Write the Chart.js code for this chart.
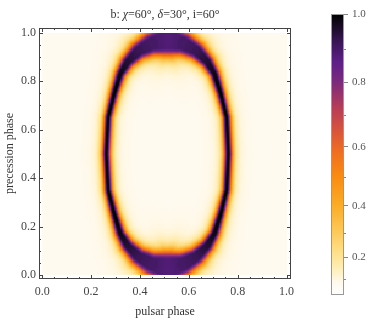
<!DOCTYPE html>
<html>
<head>
<meta charset="utf-8">
<script src="https://cdn.jsdelivr.net/npm/chart.js@4.4.1/dist/chart.umd.min.js"></script>
<style>
  html, body { margin: 0; padding: 0; background: #fff; }
  #wrap { position: relative; width: 374px; height: 326px; }
  #main { position: absolute; left: 0; top: 0; }
  #bar  { position: absolute; left: 305px; top: 0; }
</style>
</head>
<body>
<div id="wrap">
  <canvas id="main" width="305" height="326"></canvas>
  <canvas id="bar" width="69" height="326"></canvas>
</div>
<script>
/* ── fonts / ink ── */
const SERIF = "'Liberation Serif', 'DejaVu Serif', serif";
const INK = '#333';

/* ── ring (one entry per precession phase) ── */
const ringY      = [0.03, 0.045, 0.075, 0.12, 0.17, 0.25, 0.35, 0.50, 0.65, 0.75, 0.83, 0.88, 0.925, 0.955, 0.97];
const ringLeftX  = [0.515, 0.45, 0.395, 0.35, 0.32, 0.295, 0.27, 0.262, 0.27, 0.295, 0.32, 0.35, 0.395, 0.45, 0.515];
const ringRightX = [0.515, 0.575, 0.63, 0.675, 0.705, 0.73, 0.755, 0.762, 0.755, 0.73, 0.705, 0.675, 0.63, 0.575, 0.515];
const ringPeak   = [0.88, 0.90, 0.92, 0.95, 0.98, 1.00, 1.00, 1.00, 1.00, 1.00, 0.98, 0.95, 0.92, 0.90, 0.88];
const ringCore   = [0.035, 0.022, 0.014, 0.008, 0.004, 0.002, 0.001, 0.001, 0.001, 0.002, 0.004, 0.008, 0.014, 0.022, 0.035];
const ringSpread = [0.060, 0.050, 0.042, 0.035, 0.030, 0.027, 0.025, 0.025, 0.025, 0.027, 0.030, 0.035, 0.042, 0.050, 0.060];
const bgLevel = 0.08;

/* ── ticks ── */
const axisTicks  = [0, 0.2, 0.4, 0.6, 0.8, 1.0];
const frameTicks = [];                     // every 0.05, major on 0.2
for (let k = 0; k <= 20; k++) frameTicks.push(k / 20);
const cbTicks      = [0.2, 0.4, 0.6, 0.8, 1.0];
const cbMinorTicks = [0.1, 0.3, 0.5, 0.7, 0.9];
const cbPower = 1.25;                      // legend is stretched, not linear

/* ── colour scale (reversed "sunset") ── */
const sunset = [
  [0.00, '#ffffff'], [0.08, '#fffaf0'], [0.15, '#ffeeb8'], [0.22, '#fee08a'],
  [0.30, '#fdca5a'], [0.40, '#fcac28'], [0.50, '#f98c10'], [0.58, '#f07020'],
  [0.65, '#d9543a'], [0.72, '#b83e55'], [0.80, '#7c2a7c'], [0.86, '#5e2088'],
  [0.92, '#3a1656'], [0.97, '#150a1e'], [1.00, '#000000']
];
function rgb(h) { return [1, 3, 5].map(i => parseInt(h.slice(i, i + 2), 16)); }
function colorAt(v) {
  v = Math.max(0, Math.min(1, v));
  for (let i = 1; i < sunset.length; i++) {
    if (v <= sunset[i][0]) {
      const [v0, c0] = sunset[i - 1], [v1, c1] = sunset[i];
      const f = (v - v0) / (v1 - v0), a = rgb(c0), b = rgb(c1);
      return 'rgb(' + a.map((x, k) => Math.round(x + (b[k] - x) * f)).join(',') + ')';
    }
  }
  return sunset[sunset.length - 1][1];
}

/* ── build the cells from the ring ── */
const segs = [];
[ringLeftX, ringRightX].forEach(xs => {
  for (let i = 0; i < ringY.length - 1; i++) {
    segs.push({ x0: xs[i], y0: ringY[i], x1: xs[i + 1], y1: ringY[i + 1], i });
  }
});
const lerp = (arr, i, t) => arr[i] + (arr[i + 1] - arr[i]) * t;

const N = 200;
const cells = [];
for (let j = 0; j < N; j++) {
  for (let i = 0; i < N; i++) {
    const x = (i + 0.5) / N, y = (j + 0.5) / N;
    let v = bgLevel;
    for (const s of segs) {
      const dx = s.x1 - s.x0, dy = s.y1 - s.y0;
      let t = ((x - s.x0) * dx + (y - s.y0) * dy) / (dx * dx + dy * dy);
      t = Math.max(0, Math.min(1, t));
      const d = Math.hypot(x - (s.x0 + t * dx), y - (s.y0 + t * dy));
      const e = Math.max(0, d - lerp(ringCore, s.i, t)) / lerp(ringSpread, s.i, t);
      const f = 1 / ((1 + e * e) * (1 + e * e));
      const val = bgLevel + (lerp(ringPeak, s.i, t) - bgLevel) * f;
      if (val > v) v = val;
    }
    cells.push({ x: i / N, y: j / N, w: 1 / N, h: 1 / N, c: colorAt(v) });
  }
}

/* ── plugins ── */
const heatmap = {
  id: 'heatmap',
  beforeDatasetsDraw(chart) {
    const { ctx, scales: { x, y } } = chart;
    ctx.save();
    for (const c of cells) {
      const l = Math.round(x.getPixelForValue(c.x)), r = Math.round(x.getPixelForValue(c.x + c.w));
      const t = Math.round(y.getPixelForValue(c.y + c.h)), b = Math.round(y.getPixelForValue(c.y));
      ctx.fillStyle = c.c;
      ctx.fillRect(l, t, r - l, b - t);
    }
    ctx.restore();
  }
};

const frame = {
  id: 'frame',
  afterDraw(chart) {
    const { ctx, chartArea: a, scales: { x, y } } = chart;
    ctx.save();
    ctx.strokeStyle = '#444';
    ctx.lineWidth = 1;
    ctx.strokeRect(a.left + 0.5, a.top + 0.5, a.right - a.left - 1, a.bottom - a.top - 1);
    ctx.beginPath();
    frameTicks.forEach((v, k) => {
      const len = k % 4 === 0 ? 4 : 2;
      const px = Math.round(x.getPixelForValue(v)) + 0.5;
      const py = Math.round(y.getPixelForValue(v)) + 0.5;
      ctx.moveTo(px, a.bottom); ctx.lineTo(px, a.bottom - len);
      ctx.moveTo(px, a.top);    ctx.lineTo(px, a.top + len);
      ctx.moveTo(a.left, py);   ctx.lineTo(a.left + len, py);
      ctx.moveTo(a.right, py);  ctx.lineTo(a.right - len, py);
    });
    ctx.stroke();

    // title with italic greek letters
    const parts = [['b: ', ''], ['\u03C7', 'italic '], ['=60\u00B0, ', ''], ['\u03B4', 'italic '], ['=30\u00B0, i=60\u00B0', '']];
    let total = 0;
    parts.forEach(p => { ctx.font = p[1] + '12px ' + SERIF; total += ctx.measureText(p[0]).width; });
    let cx = (a.left + a.right) / 2 - total / 2;
    ctx.fillStyle = INK;
    ctx.textBaseline = 'middle';
    parts.forEach(p => {
      ctx.font = p[1] + '12px ' + SERIF;
      ctx.fillText(p[0], cx, 15);
      cx += ctx.measureText(p[0]).width;
    });
    ctx.restore();
  }
};

const barFrame = {
  id: 'barFrame',
  afterDraw(chart) {
    const { ctx, chartArea: a, scales: { y } } = chart;
    ctx.save();
    ctx.strokeStyle = '#999';
    ctx.lineWidth = 1;
    ctx.strokeRect(a.left + 0.5, a.top + 0.5, a.right - a.left - 1, a.bottom - a.top - 1);
    ctx.strokeStyle = '#888';
    ctx.beginPath();
    cbMinorTicks.forEach(v => {
      const py = Math.round(y.getPixelForValue(Math.pow(v, cbPower))) + 0.5;
      ctx.moveTo(a.right, py); ctx.lineTo(a.right + 2, py);
    });
    ctx.stroke();
    ctx.restore();
  }
};

/* ── main density chart ── */
new Chart(document.getElementById('main'), {
  type: 'scatter',
  data: { datasets: [] },
  options: {
    responsive: false,
    animation: false,
    layout: { padding: { top: 28, right: 14, left: 0, bottom: 0 } },
    plugins: { legend: { display: false }, tooltip: { enabled: false } },
    scales: {
      x: {
        type: 'linear', min: -0.013, max: 1.018,
        afterBuildTicks: s => { s.ticks = axisTicks.map(v => ({ value: v })); },
        afterFit: s => { s.height = 47; },
        grid: { display: false, drawTicks: false },
        border: { display: false },
        ticks: { padding: 6, color: '#444', maxRotation: 0, font: { family: SERIF, size: 12 }, callback: v => v.toFixed(1) },
        title: { display: true, text: 'pulsar phase', color: INK, font: { family: SERIF, size: 12 }, padding: { top: 0, bottom: 7 } }
      },
      y: {
        type: 'linear', min: -0.0165, max: 1.0186,
        afterBuildTicks: s => { s.ticks = axisTicks.map(v => ({ value: v })); },
        afterFit: s => { s.width = 39; },
        grid: { display: false, drawTicks: false },
        border: { display: false },
        ticks: { padding: 3, color: '#444', font: { family: SERIF, size: 12 }, callback: v => v.toFixed(1) },
        title: { display: true, text: 'precession phase', color: INK, font: { family: SERIF, size: 12 }, padding: { top: 3, bottom: 0 } }
      }
    }
  },
  plugins: [heatmap, frame]
});

/* ── colour bar ── */
function barGradient(chart) {
  const a = chart.chartArea;
  if (!a) return '#fff';
  const g = chart.ctx.createLinearGradient(0, a.bottom, 0, a.top);
  for (let k = 0; k <= 50; k++) {
    const v = k / 50;
    g.addColorStop(Math.pow(v, cbPower), colorAt(v));
  }
  return g;
}

new Chart(document.getElementById('bar'), {
  type: 'bar',
  data: {
    labels: [''],
    datasets: [{
      data: [[0, 1]],
      backgroundColor: ctx => barGradient(ctx.chart),
      borderWidth: 0,
      barPercentage: 1,
      categoryPercentage: 1
    }]
  },
  options: {
    responsive: false,
    animation: false,
    layout: { padding: { left: 26, top: 14, bottom: 31, right: 0 } },
    plugins: { legend: { display: false }, tooltip: { enabled: false } },
    scales: {
      x: { display: false },
      y: {
        position: 'right', min: 0, max: 1,
        afterBuildTicks: s => { s.ticks = cbTicks.map(v => ({ value: Math.pow(v, cbPower) })); },
        afterFit: s => { s.width = 30; },
        grid: { drawOnChartArea: false, drawTicks: true, tickLength: 4, color: '#888' },
        border: { display: false },
        ticks: { padding: 4, color: '#555', font: { family: SERIF, size: 11 }, callback: v => Math.pow(v, 1 / cbPower).toFixed(1) }
      }
    }
  },
  plugins: [barFrame]
});
</script>
</body>
</html>
